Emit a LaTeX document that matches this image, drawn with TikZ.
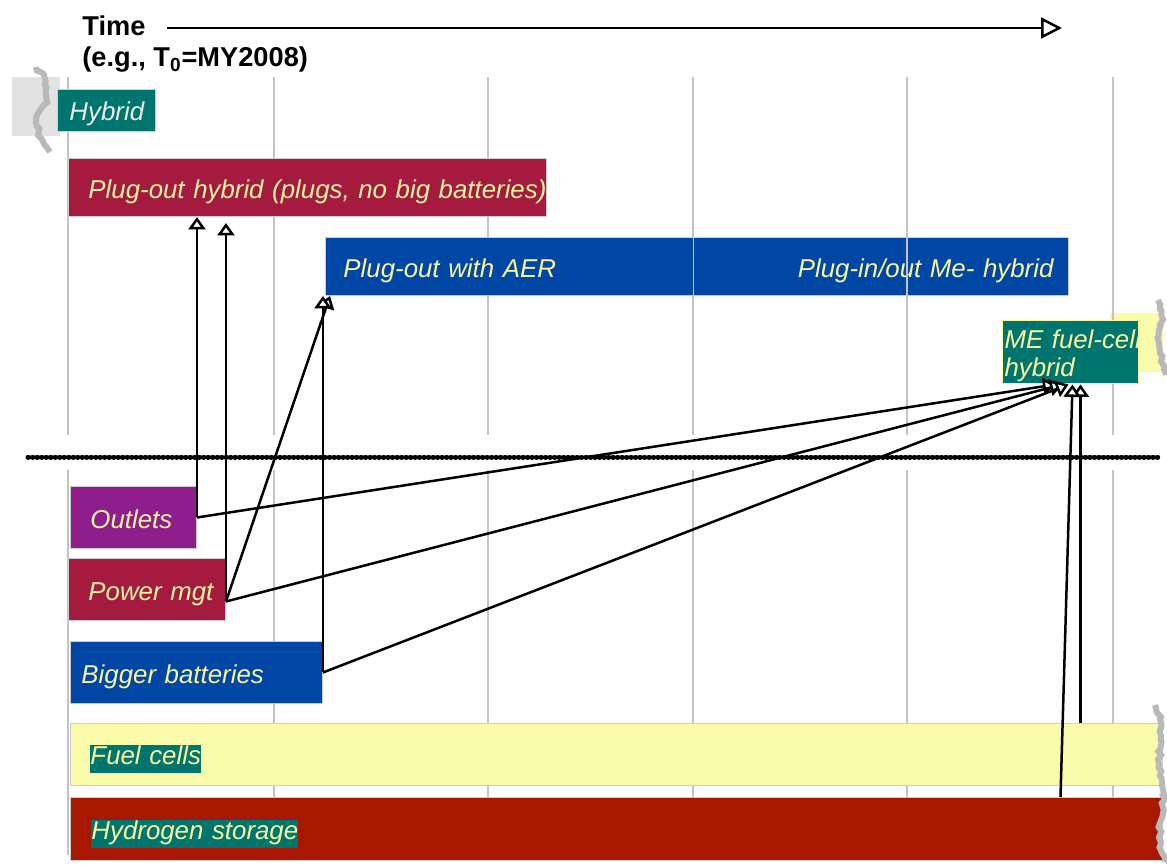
\documentclass[tikz,border=0pt]{standalone}
\usepackage{fontspec}
\setmainfont{Liberation Sans}
\usetikzlibrary{arrows.meta,calc,decorations.pathmorphing}

\definecolor{tealbox}{RGB}{0,117,110}
\definecolor{crimbox}{RGB}{165,27,64}
\definecolor{bluebox}{RGB}{0,70,165}
\definecolor{purpbox}{RGB}{143,30,140}
\definecolor{yellbox}{RGB}{250,251,170}
\definecolor{redbox}{RGB}{168,24,0}
\definecolor{lblyellow}{RGB}{250,245,160}
\definecolor{gridgray}{RGB}{195,195,195}
\definecolor{edgegray}{RGB}{205,205,205}
\definecolor{oldgray}{RGB}{226,226,226}
\definecolor{teargray}{RGB}{185,185,185}

\newcommand{\lbl}{\fontsize{14.7}{16}\selectfont\itshape}
\newcommand{\hl}[1]{{\setlength{\fboxsep}{0pt}\colorbox{tealbox}{\strut #1}}}

\begin{document}
\begin{tikzpicture}[x=0.02cm, y=-0.02cm]
		\tikzset{bar/.style={rectangle, draw=edgegray, line width=0.02cm, anchor=north west, inner xsep=0.4cm, inner ysep=0pt, minimum height=1.24cm, text height=0.46cm, text depth=0cm, align=left, text=lblyellow, font=\lbl}};
		\tikzset{gridline/.style={gridgray, line width=0.05cm}};
		\tikzset{feed/.style={black, line width=0.05cm, -{Triangle[fill=white, length=0.25cm, width=0.34cm]}}};
		\tikzset{tear/.style={teargray, line width=0.12cm, decorate, decoration={random steps, segment length=0.08cm, amplitude=0.04cm}}};

		\useasboundingbox (0,0) rectangle (1167,865);

		% old period, torn off
		\fill[oldgray] (12,77) rectangle (60,136);
		\draw[tear] (36,67) .. controls (52,85) and (48,98) .. (40,110) .. controls (32,122) and (40,138) .. (50,152);
		\fill[yellbox] (1110,313) rectangle (1163,372);

		\foreach \gx in {68,274,488,693,907,1113} {
			\draw[gridline] (\gx,77) to (\gx,435);
			\draw[gridline] (\gx,470) to (\gx,855);
		}

		\draw[black, line width=0.1cm, dash pattern=on 0.01cm off 0.08cm, line cap=round] (28,457) to (1160,457);

		% time axis
		\node[anchor=base west, inner sep=0pt, font=\fontsize{15.5}{18}\selectfont\bfseries] (time) at (82,36) {Time};
		\node[anchor=base west, inner sep=0pt, font=\fontsize{15.5}{18}\selectfont\bfseries] (era) at (82,67) {(e.g., T\textsubscript{0}=MY2008)};
		\coordinate (tstart) at (167,28);
		\coordinate (tend) at (1062,28);
		\draw[line width=0.05cm, -{Triangle[fill=white, length=0.42cm, width=0.42cm]}] (tstart) to (tend);

		% vehicles
		\node[bar, fill=tealbox, text=black!8, inner xsep=0.24cm, text width=1.48cm, minimum height=0.84cm, text height=0.4cm] (hybrid) at (57,89) {Hybrid};
		\node[bar, fill=crimbox, text width=8.76cm, minimum height=1.16cm] (plugout) at (68,158) {\mbox{Plug-out hybrid (plugs, no big batteries)}};
		\node[bar, fill=bluebox, inner xsep=0.36cm, text width=6.64cm, minimum height=1.16cm, text height=0.44cm] (aer) at (325,237) {\mbox{Plug-out with AER}};
		\node[bar, fill=bluebox, inner xsep=0.3cm, text width=6.9cm, minimum height=1.16cm, text height=0.44cm, align=right] (mehyb) at (693,237) {\mbox{Plug-in/out Me- hybrid}};
		\node[bar, fill=tealbox, draw=lblyellow, inner xsep=0.04cm, inner ysep=0.04cm, text width=2.64cm, minimum height=1.26cm, text height=, text depth=] (me) at (1002,320) {\rule{0pt}{0.52cm}\mbox{ME fuel-cell}\\hybrid};
		\draw[gridline, line width=0.03cm] (907,237) to (907,295);

		% technologies
		\node[bar, fill=purpbox, text width=1.72cm] (out) at (70,486) {\mbox{Outlets}};
		\node[bar, fill=crimbox, text width=2.34cm] (pm) at (68,558) {\mbox{Power mgt}};
		\node[bar, fill=bluebox, inner xsep=0.22cm, text width=4.6cm] (bb) at (70,641) {\mbox{Bigger batteries}};
		\node[bar, fill=yellbox, text width=21.04cm, text height=0.42cm] (fuel) at (70,723) {\hl{Fuel cells}};
		\node[bar, fill=redbox, inner xsep=0.42cm, text width=21cm, minimum height=1.26cm, text height=0.42cm] (hyd) at (70,797) {\hl{Hydrogen storage}};

		\coordinate (mefuel) at ($(me.south)+(10,0)$);
		\coordinate (mehyd) at ($(me.south)+(-10,0)$);

		\draw[feed] (out.east) to (out.east |- plugout.south);
		\draw[feed] (out.east) to ($(me.south)+(-15,0)$);

		\draw[feed] ($(pm.east)+(0,12)$) to ($(pm.east |- plugout.south)+(0,6)$);
		\draw[feed] ($(pm.east)+(0,12)$) to ($(aer.south west)+(5,0)$);
		\draw[feed] ($(pm.east)+(0,12)$) to ($(me.south)+(-8,0)$);

		\draw[feed] (bb.east) to (bb.east |- aer.south);
		\draw[feed] (bb.east) to ($(me.south)+(-2,0)$);

		\draw[feed] (mefuel |- fuel.north) to (mefuel);
		\draw[feed] (mehyd |- hyd.north) to ($(me.south)+(2,0)$);

		% torn edges on the right
		\draw[tear] (1158,300) .. controls (1168,320) and (1152,335) .. (1160,350) .. controls (1165,360) and (1160,368) .. (1166,375);
		\draw[tear] (1155,705) .. controls (1168,730) and (1155,760) .. (1162,785) .. controls (1168,810) and (1152,830) .. (1165,862);
	\end{tikzpicture}
\end{document}
